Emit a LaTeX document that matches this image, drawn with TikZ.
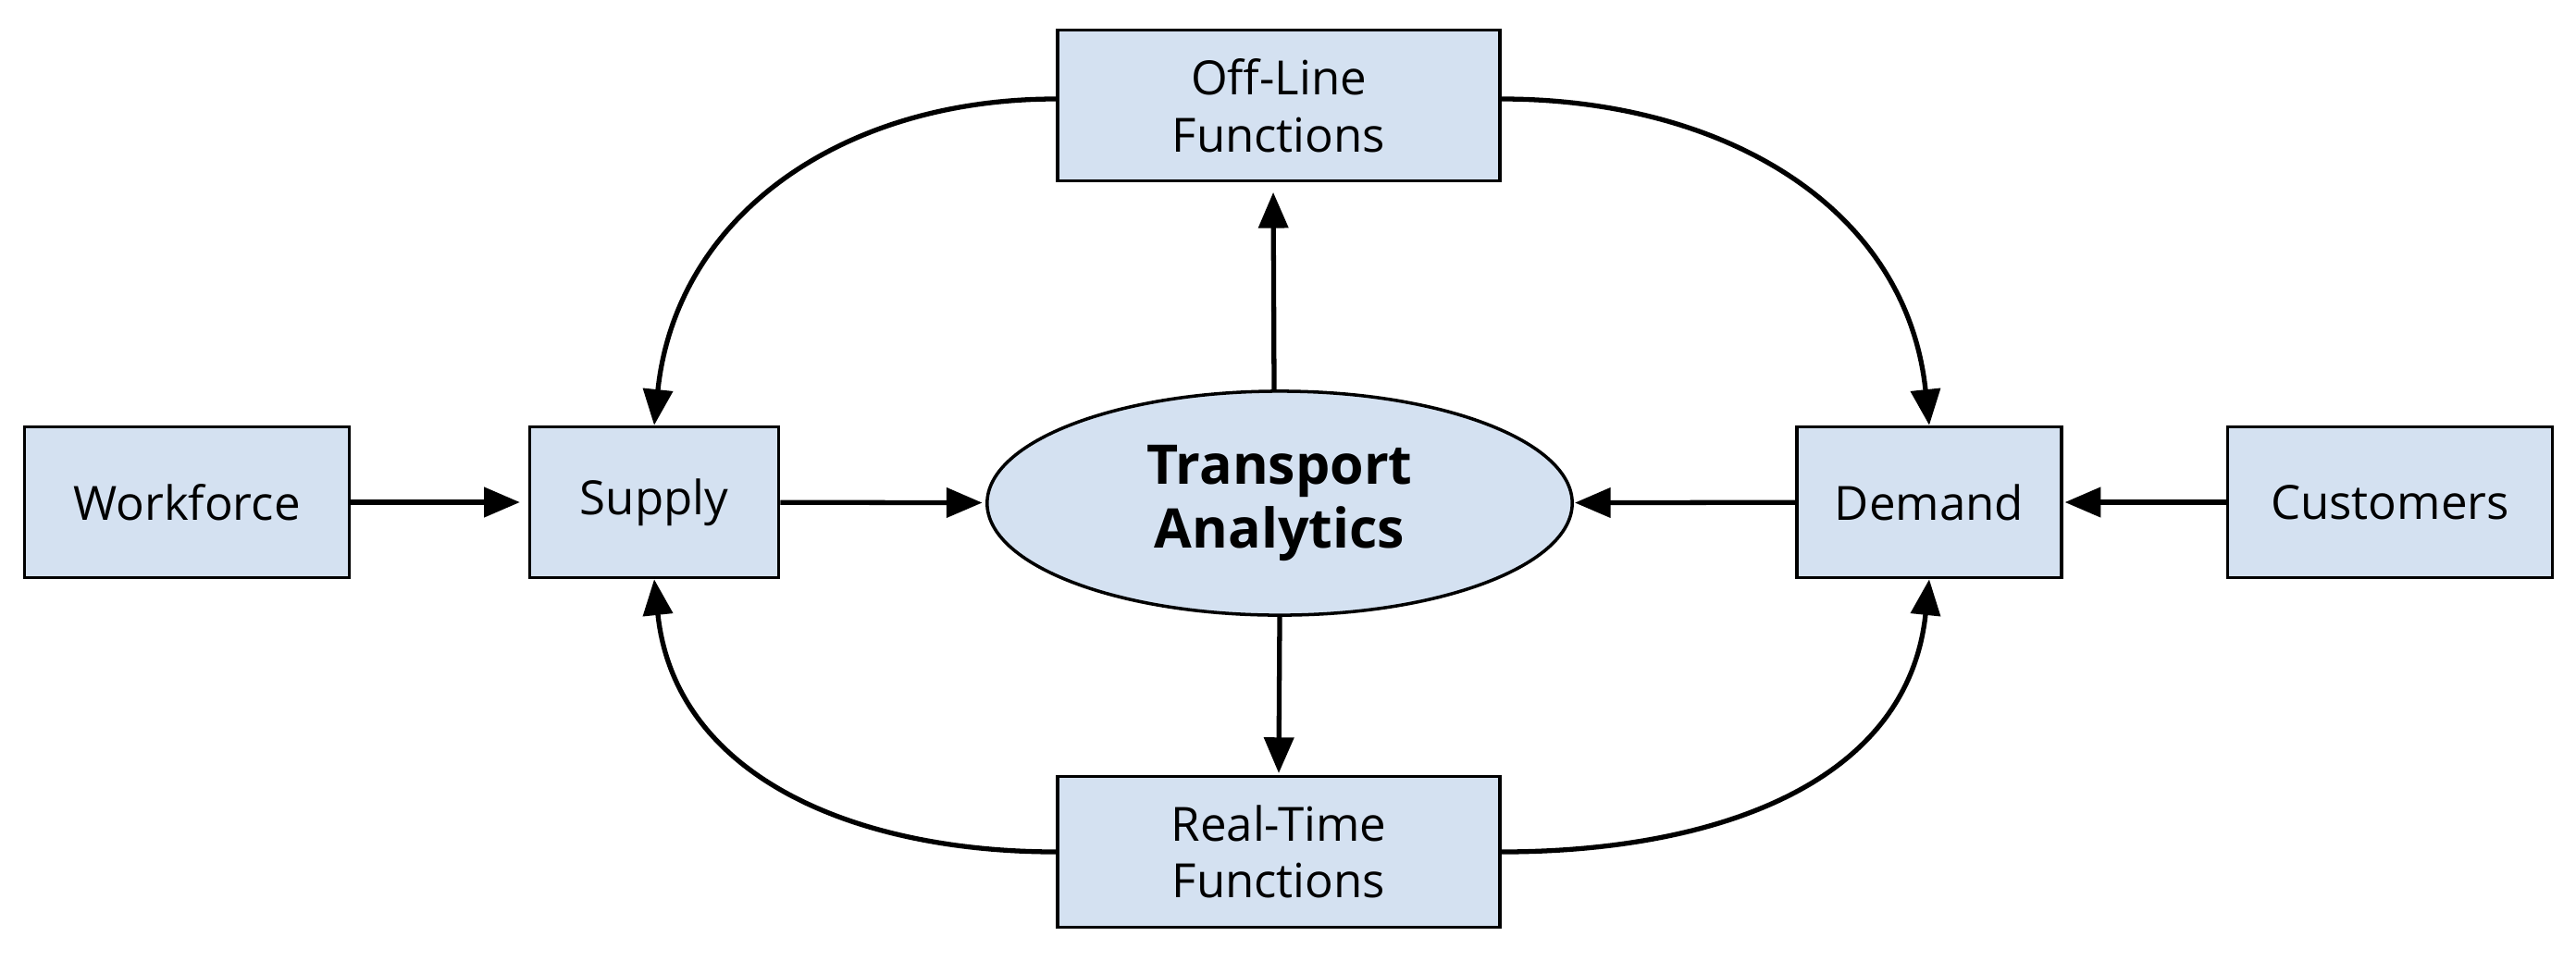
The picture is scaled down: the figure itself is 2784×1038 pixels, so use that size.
\documentclass[tikz,border=0pt]{standalone}
\usepackage{fontspec}
\setmainfont{Open Sans}
\usetikzlibrary{shapes.geometric,arrows.meta,calc}
\definecolor{boxfill}{RGB}{212,225,241}
\begin{document}
\begin{tikzpicture}[x=0.01cm,y=-0.01cm,
  box/.style={draw=black, line width=1pt, fill=boxfill, minimum height=1.63cm,
    align=center, inner sep=0pt, font=\fontsize{14.5}{17.5}\selectfont},
  hub/.style={ellipse, draw=black, line width=1pt, fill=boxfill, minimum width=6.32cm,
    minimum height=2.42cm, inner sep=0pt, align=center,
    font=\fontsize{16.8}{19.8}\selectfont\bfseries},
  conn/.style={line width=1.5pt, -{Triangle[length=11pt,width=9pt]}}]
\useasboundingbox (0,0) rectangle (2784,1038);
\node[box, minimum width=4.78cm] (off) at (1382,114) {Off-Line\\Functions};
\node[box, minimum width=4.78cm] (rt) at (1382,921) {Real-Time\\Functions};
\node[box, minimum width=3.51cm] (wf) at (202,543) {Workforce};
\node[box, minimum width=2.69cm] (sup) at (707,543) {Supply};
\node[hub] (hub) at (1383,544) {Transport\\Analytics};
\node[box, minimum width=2.86cm] (dem) at (2085,543) {Demand};
\node[box, minimum width=3.51cm] (cus) at (2583,543) {Customers};

\draw[conn, shorten >=2.5pt] (wf) -- (sup);
\draw[conn, shorten >=1pt] (sup) -- (hub);
\draw[conn, shorten >=0.3pt] (dem) -- (hub);
\draw[conn, shorten >=0.5pt] (cus) -- (dem);
\draw[conn, shorten >=3pt] ([xshift=-0.06cm]hub.north) -- ([xshift=-0.06cm]off.south);
\draw[conn, shorten >=0.5pt] (hub.south) -- (rt.north);

\draw[conn] ([yshift=0.07cm]off.west) to[out=180, in=84, looseness=1.05] (sup.north);
\draw[conn] ([yshift=0.07cm]off.east) to[out=0, in=96, looseness=1.05] (dem.north);
\draw[conn] (rt.west) to[out=180, in=-84, looseness=1.05] (sup.south);
\draw[conn] (rt.east) to[out=0, in=-96, looseness=1.05] (dem.south);
\end{tikzpicture}
\end{document}
